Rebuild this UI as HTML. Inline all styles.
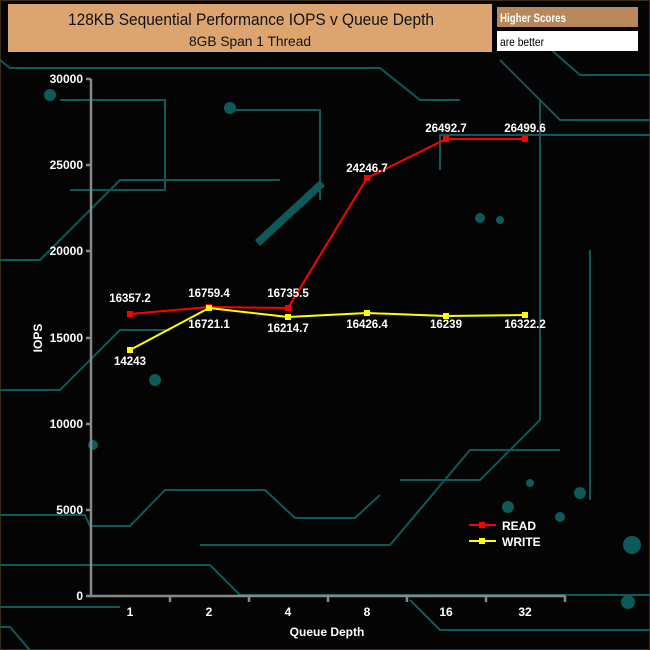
<!DOCTYPE html>
<html><head><meta charset="utf-8"><style>
html,body{margin:0;padding:0;background:#000;}
svg{display:block;}
text{font-family:"Liberation Sans",sans-serif;}
</style></head><body>
<svg width="650" height="650" viewBox="0 0 650 650" xmlns="http://www.w3.org/2000/svg">
<rect x="0" y="0" width="650" height="650" fill="#040404"/>
<rect x="0.5" y="0.5" width="649" height="649" fill="none" stroke="#3a2a1a"/>
<g fill="none" stroke="#0e5a5a" stroke-width="2">
<path d="M0 60 L10 68 L380 68 L420 100 L460 100"/>
<path d="M60 100 L165 100 L165 190 L70 190"/>
<path d="M230 110 L320 110 L320 200"/>
<path d="M0 260 L40 260 L120 180 L280 180"/>
<path d="M0 390 L60 390 L120 330 L170 330"/>
<path d="M0 515 L85 515 L90 526 L130 526 L165 490 L265 490 L295 518 L355 518 L380 495"/>
<path d="M0 565 L210 565 L240 595 L650 595"/>
<path d="M0 607 L120 607"/>
<path d="M0 627 L10 627 L40 662"/>
<path d="M440 170 L440 135 L470 135 L650 135"/>
<path d="M500 60 L560 120 L650 120"/>
<path d="M540 40 L580 75 L650 75"/>
<path d="M410 600 L440 630 L650 630"/>
<path d="M540 100 L540 420 L480 480 L400 480"/>
<path d="M590 250 L590 500"/>
<path d="M200 545 L390 545 L470 450 L560 450"/>
</g>
<g fill="#0e5a5a">
<circle cx="50" cy="95" r="6"/><circle cx="230" cy="108" r="6"/><circle cx="155" cy="380" r="6"/>
<circle cx="93" cy="445" r="5"/><circle cx="508" cy="507" r="6"/><circle cx="530" cy="483" r="4"/>
<circle cx="560" cy="517" r="5"/><circle cx="580" cy="493" r="6"/><circle cx="632" cy="545" r="9"/>
<circle cx="628" cy="602" r="7"/><circle cx="480" cy="218" r="5"/><circle cx="500" cy="220" r="4"/>
<path d="M255 240 L320 180 L325 186 L260 246 Z"/>
</g>
<rect x="8" y="4" width="484" height="48" fill="#dca56f"/>
<text x="68" y="25" font-size="17" textLength="366" lengthAdjust="spacingAndGlyphs" fill="#111">128KB Sequential Performance IOPS v Queue Depth</text>
<text x="189" y="46" font-size="14" textLength="122" lengthAdjust="spacingAndGlyphs" fill="#111">8GB Span 1 Thread</text>
<rect x="497" y="7" width="141" height="20" fill="#b8875a"/>
<text x="500" y="22" font-size="12" font-weight="bold" textLength="66" lengthAdjust="spacingAndGlyphs" fill="#fff">Higher Scores</text>
<rect x="497" y="31" width="141" height="20" fill="#fff"/>
<text x="500" y="46" font-size="12" textLength="44" lengthAdjust="spacingAndGlyphs" fill="#000">are better</text>
<g stroke="#888" stroke-width="2.5" fill="none">
<path d="M91 79 L91 596 L565 596"/>
<path d="M86 79 L91 79 M86 165 L91 165 M86 251 L91 251 M86 338 L91 338 M86 424 L91 424 M86 510 L91 510 M86 596 L91 596"/>
<path d="M170 596 L170 602 M249 596 L249 602 M328 596 L328 602 M407 596 L407 602 M486 596 L486 602 M565 596 L565 602"/>
</g>
<g fill="#fff" font-size="12" font-weight="bold" text-anchor="end">
<text x="83" y="83">30000</text><text x="83" y="169">25000</text><text x="83" y="255">20000</text>
<text x="83" y="342">15000</text><text x="83" y="428">10000</text><text x="83" y="514">5000</text><text x="83" y="600">0</text>
</g>
<g fill="#fff" font-size="12" font-weight="bold" text-anchor="middle">
<text x="130" y="616">1</text><text x="209" y="616">2</text><text x="288" y="616">4</text>
<text x="367" y="616">8</text><text x="446" y="616">16</text><text x="525" y="616">32</text>
<text x="327" y="636">Queue Depth</text>
<text transform="translate(42 338) rotate(-90)">IOPS</text>
</g>
<polyline points="130,314 209,307 288,308 367,178 446,139 525,139" fill="none" stroke="#f00" stroke-width="2"/>
<polyline points="130,350 209,308 288,317 367,313 446,316 525,315" fill="none" stroke="#ff0" stroke-width="2"/>
<g fill="#f00"><rect x="127" y="311" width="6" height="6"/><rect x="206" y="304" width="6" height="6"/><rect x="285" y="305" width="6" height="6"/><rect x="364" y="175" width="6" height="6"/><rect x="443" y="136" width="6" height="6"/><rect x="522" y="136" width="6" height="6"/></g>
<g fill="#ff0"><rect x="127" y="347" width="6" height="6"/><rect x="206" y="305" width="6" height="6"/><rect x="285" y="314" width="6" height="6"/><rect x="364" y="310" width="6" height="6"/><rect x="443" y="313" width="6" height="6"/><rect x="522" y="312" width="6" height="6"/></g>
<g fill="#fff" font-size="11.5" font-weight="bold" text-anchor="middle">
<text x="130" y="302">16357.2</text><text x="209" y="297">16759.4</text><text x="288" y="297">16735.5</text>
<text x="367" y="172">24246.7</text><text x="446" y="132">26492.7</text><text x="525" y="132">26499.6</text>
<text x="130" y="365">14243</text><text x="209" y="328">16721.1</text><text x="288" y="332">16214.7</text>
<text x="367" y="328">16426.4</text><text x="446" y="328">16239</text><text x="525" y="328">16322.2</text>
</g>
<line x1="469" y1="525" x2="496" y2="525" stroke="#f00" stroke-width="2"/><rect x="479" y="522" width="6" height="6" fill="#f00"/>
<line x1="469" y1="541" x2="496" y2="541" stroke="#ff0" stroke-width="2"/><rect x="479" y="538" width="6" height="6" fill="#ff0"/>
<text x="502" y="530" font-size="12" font-weight="bold" fill="#fff">READ</text>
<text x="502" y="546" font-size="12" font-weight="bold" fill="#fff">WRITE</text>
</svg>
</body></html>
